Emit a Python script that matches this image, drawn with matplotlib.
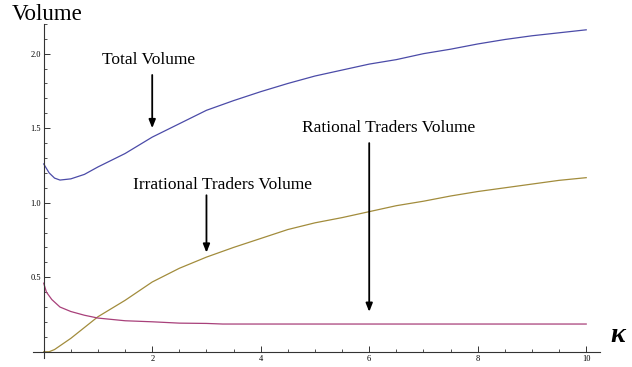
import matplotlib
matplotlib.use("Agg")
import matplotlib.pyplot as plt
from matplotlib.ticker import MultipleLocator

# sampled curves (kappa on the horizontal axis)
kappa_total = [0, 0.1, 0.2, 0.3, 0.5, 0.75, 1.0, 1.5, 2.0, 2.5, 3.0, 3.5, 4.0, 4.5,
               5.0, 5.5, 6.0, 6.5, 7.0, 7.5, 8.0, 8.5, 9.0, 9.5, 10.0]
total_volume = [1.26, 1.20, 1.165, 1.152, 1.16, 1.19, 1.24, 1.33, 1.44, 1.53, 1.62,
                1.685, 1.745, 1.80, 1.85, 1.89, 1.93, 1.96, 2.00, 2.03, 2.065, 2.095,
                2.12, 2.14, 2.16]

kappa_irr = [0, 0.1, 0.2, 0.5, 1.0, 1.5, 2.0, 2.5, 3.0, 3.5, 4.0, 4.5, 5.0, 5.5,
             6.0, 6.5, 7.0, 7.5, 8.0, 8.5, 9.0, 9.5, 10.0]
irrational_volume = [0.0, 0.0, 0.015, 0.09, 0.235, 0.345, 0.468, 0.56, 0.635, 0.70,
                     0.76, 0.82, 0.865, 0.90, 0.94, 0.98, 1.01, 1.045, 1.075, 1.10,
                     1.125, 1.15, 1.168]

kappa_rat = [0, 0.05, 0.15, 0.3, 0.5, 0.75, 1.0, 1.5, 2.0, 2.5, 3.0, 3.3, 4.0, 6.0, 8.0, 10.0]
rational_volume = [0.46, 0.40, 0.35, 0.30, 0.27, 0.245, 0.226, 0.208, 0.201, 0.192,
                   0.19, 0.186, 0.186, 0.186, 0.186, 0.186]

x_ticks = [2, 4, 6, 8, 10]
y_ticks = [0.5, 1.0, 1.5, 2.0]

serif = ["Liberation Serif", "DejaVu Serif"]

fig = plt.figure(figsize=(6.32, 3.67), dpi=100)
ax = fig.add_axes([0.052, 0.0253, 0.897, 0.9097])

ax.plot(kappa_total, total_volume, color="#4b4ba8", lw=0.9)
ax.plot(kappa_irr, irrational_volume, color="#a28c3c", lw=0.9)
ax.plot(kappa_rat, rational_volume, color="#a8407a", lw=0.9)

ax.set_xlim(-0.2, 10.25)
ax.set_ylim(-0.04, 2.2)

for s in ("top", "right"):
    ax.spines[s].set_visible(False)
ax.spines["left"].set_position(("data", 0))
ax.spines["bottom"].set_position(("data", 0))
for s in ("left", "bottom"):
    ax.spines[s].set_color("#333333")
    ax.spines[s].set_linewidth(0.8)

ax.set_xticks(x_ticks)
ax.set_yticks(y_ticks)
ax.set_xticklabels([str(v) for v in x_ticks])
ax.set_yticklabels([f"{v:.1f}" for v in y_ticks])
ax.xaxis.set_minor_locator(MultipleLocator(0.5))
ax.yaxis.set_minor_locator(MultipleLocator(0.1))
ax.tick_params(which="major", direction="in", length=4, width=0.7, color="#333333",
               labelsize=6, pad=2)
ax.tick_params(which="minor", direction="in", length=2.5, width=0.6, color="#333333")
for lab in ax.get_xticklabels() + ax.get_yticklabels():
    lab.set_family(serif)

fig.text(0.019, 0.932, "Volume", family=serif, fontsize=16.5, va="bottom", ha="left")
fig.text(0.966, 0.085, "κ", family=serif, fontsize=20, fontweight="bold",
         fontstyle="italic", ha="left", va="center")

ann = dict(family=serif, fontsize=12.5, ha="center", va="center")
arrow = dict(arrowstyle="-|>,head_length=0.5,head_width=0.2", color="black", lw=1.3,
             shrinkA=0, shrinkB=0)

ax.text(1.94, 1.96, "Total Volume", **ann)
ax.annotate("", xy=(2.0, 1.50), xytext=(2.0, 1.857), arrowprops=arrow)

ax.text(3.30, 1.12, "Irrational Traders Volume", **ann)
ax.annotate("", xy=(3.0, 0.665), xytext=(3.0, 1.05), arrowprops=arrow)

ax.text(6.36, 1.50, "Rational Traders Volume", **ann)
ax.annotate("", xy=(6.0, 0.268), xytext=(6.0, 1.40), arrowprops=arrow)

fig.savefig("out.png", dpi=100)
